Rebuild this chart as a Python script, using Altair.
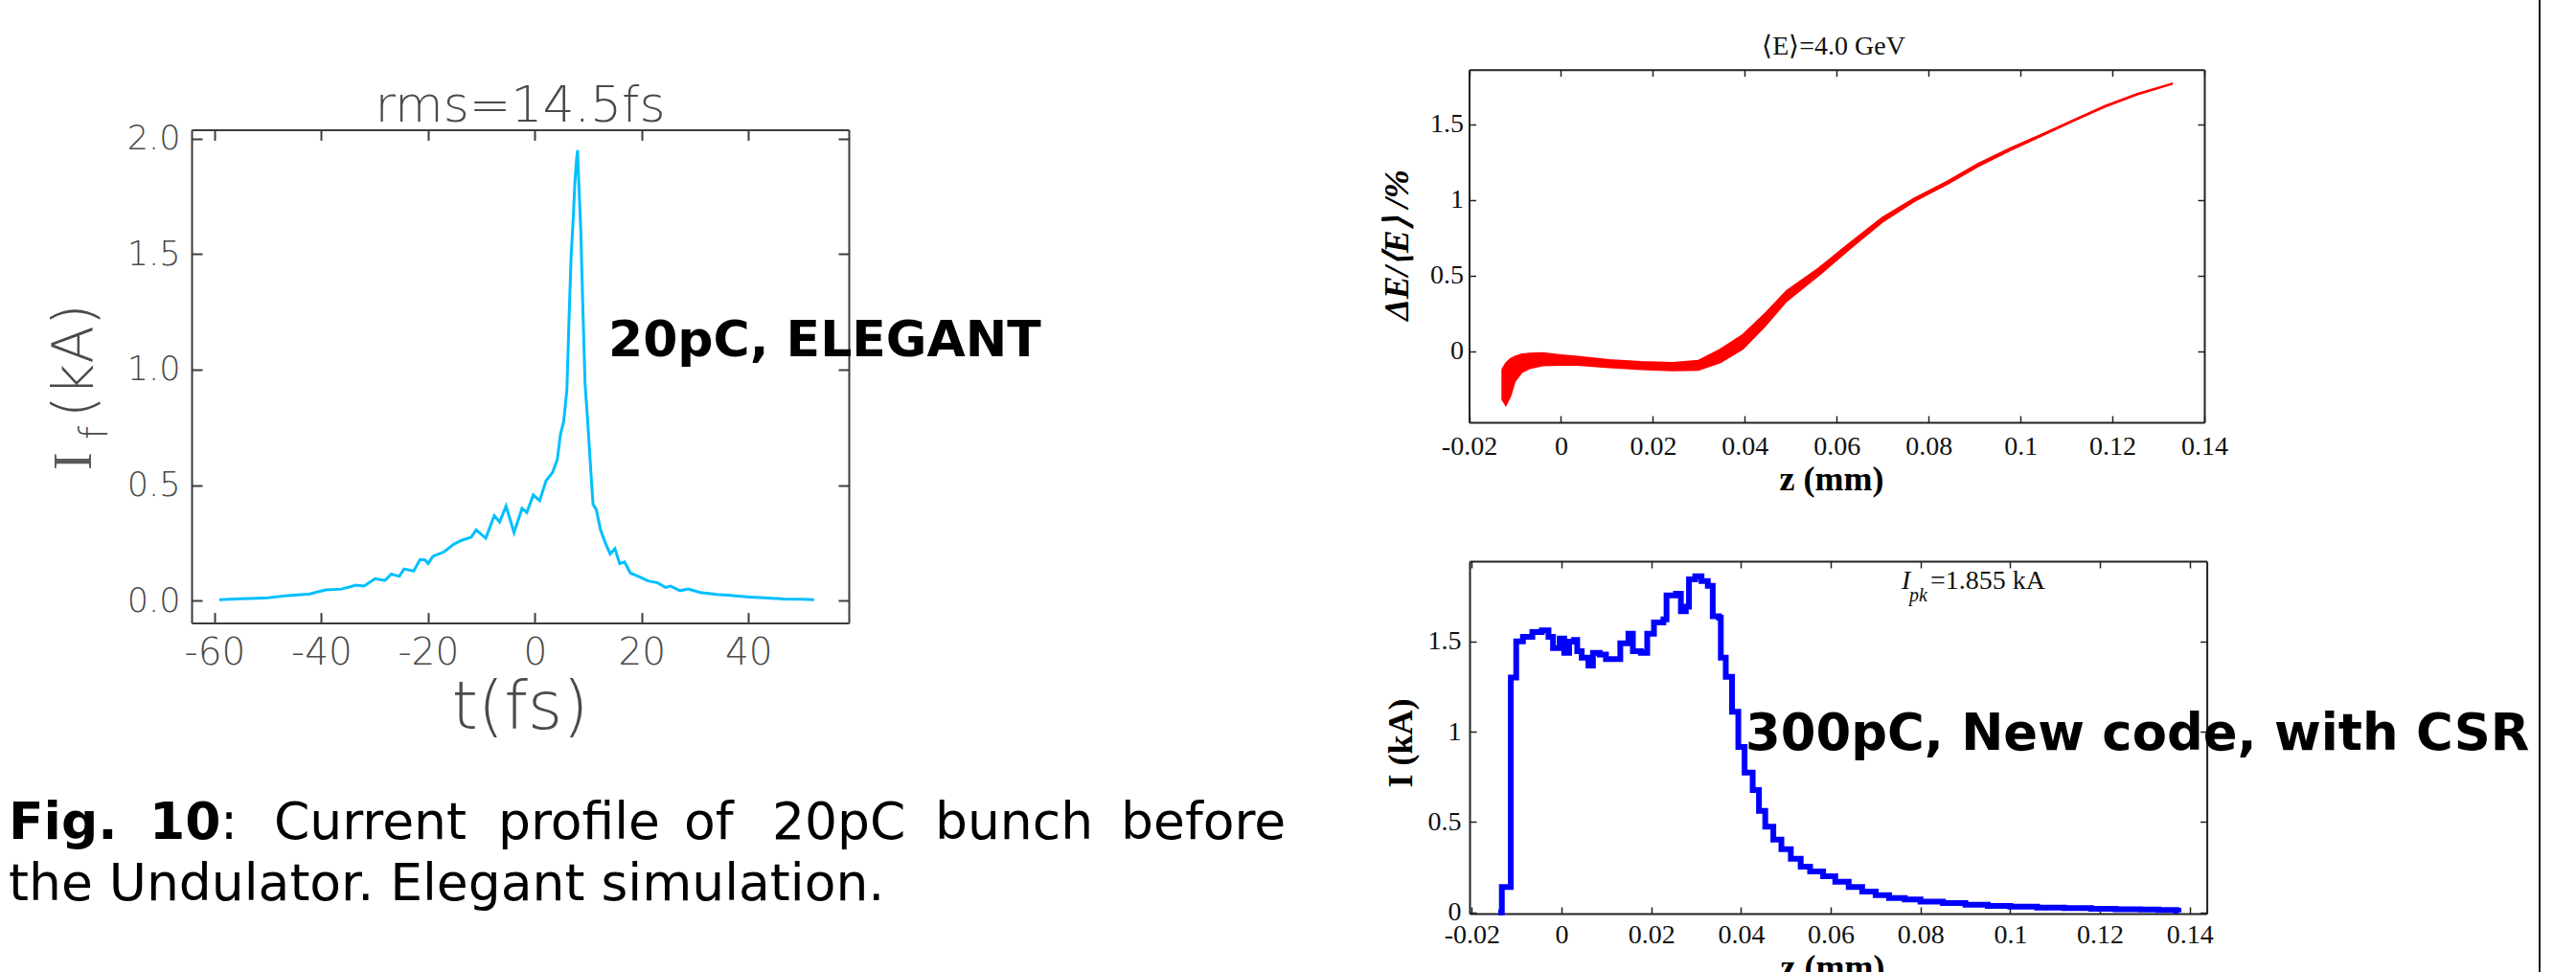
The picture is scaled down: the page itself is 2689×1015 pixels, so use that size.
import altair as alt
import pandas as pd

W, H = 2689, 1015

# ---------------- data ----------------
# Left panel: 20 pC bunch, ELEGANT current profile
t_fs = [-59.1, -55.0, -50.0, -46.3, -42.2, -39.2, -36.2, -33.5, -32.0, -29.9,
        -28.1, -26.9, -25.4, -24.5, -22.7, -21.5, -20.6, -20.0, -19.1, -17.0,
        -15.2, -13.7, -11.9, -11.0, -9.2, -7.6, -6.6, -5.4, -3.9, -2.4,
        -1.5, -0.3, 0.9, 2.1, 3.3, 4.2, 4.8, 5.4, 6.0, 6.4,
        6.8, 7.2, 7.5, 7.8, 8.0, 8.2, 8.6, 9.0, 9.4, 9.9,
        10.5, 10.9, 11.5, 12.3, 13.2, 14.1, 15.0, 15.9, 16.8, 17.9,
        19.4, 21.2, 23.0, 24.5, 25.4, 27.2, 28.7, 31.0, 34.1, 37.0,
        40.4, 43.0, 46.7, 50.0, 52.3]
I_ka = [0.004, 0.008, 0.012, 0.022, 0.029, 0.046, 0.050, 0.067, 0.063, 0.095,
        0.087, 0.115, 0.105, 0.137, 0.128, 0.178, 0.176, 0.160, 0.192, 0.211,
        0.244, 0.261, 0.275, 0.306, 0.270, 0.368, 0.340, 0.409, 0.295, 0.399,
        0.381, 0.457, 0.432, 0.519, 0.554, 0.610, 0.720, 0.775, 0.913, 1.217,
        1.494, 1.659, 1.811, 1.907, 1.949, 1.825, 1.604, 1.259, 0.941, 0.775,
        0.554, 0.416, 0.395, 0.306, 0.250, 0.202, 0.225, 0.160, 0.167, 0.119,
        0.105, 0.085, 0.077, 0.057, 0.063, 0.043, 0.050, 0.035, 0.027, 0.022,
        0.015, 0.012, 0.007, 0.006, 0.004]
t_ticks = [-60, -40, -20, 0, 20, 40]
If_ticks = [0.0, 0.5, 1.0, 1.5, 2.0]

# Right top: energy deviation band along the bunch (<E> = 4.0 GeV)
z_e = [-0.0128, -0.0120, -0.0110, -0.0100, -0.0085, -0.0068, -0.0040, 0.0000,
       0.0036, 0.0105, 0.0174, 0.0243, 0.0299, 0.0347, 0.0396, 0.0444, 0.0491,
       0.0561, 0.0630, 0.0699, 0.0769, 0.0838, 0.0907, 0.0977, 0.1046, 0.1115,
       0.1184, 0.1254, 0.1330]
dE_lo = [-0.32, -0.36, -0.30, -0.20, -0.14, -0.115, -0.095, -0.092,
         -0.093, -0.108, -0.121, -0.129, -0.125, -0.075, 0.015, 0.165, 0.33,
         0.50, 0.68, 0.853, 0.99, 1.10, 1.22, 1.327, 1.424, 1.521,
         1.615, 1.696, 1.767]
dE_hi = [-0.12, -0.08, -0.05, -0.035, -0.02, -0.015, -0.012, -0.025,
         -0.036, -0.057, -0.070, -0.076, -0.062, 0.013, 0.110, 0.250, 0.40,
         0.55, 0.72, 0.885, 1.012, 1.12, 1.24, 1.343, 1.436, 1.531,
         1.625, 1.704, 1.773]
z_ticks = [-0.02, 0, 0.02, 0.04, 0.06, 0.08, 0.1, 0.12, 0.14]
dE_ticks = [0, 0.5, 1, 1.5]

# Right bottom: 300 pC current profile (new code, with CSR)
z_i = [-0.0141, -0.0133, -0.0113, -0.0101, -0.0086, -0.0065, -0.0044, -0.0029,
       -0.0019, -0.0004, 0.0006, 0.0017, 0.0028, 0.0035, 0.0045, 0.0060, 0.0070,
       0.0085, 0.0099, 0.0120, 0.0131, 0.0149, 0.0159, 0.0177, 0.0191, 0.0206,
       0.0227, 0.0234, 0.0255, 0.0266, 0.0277, 0.0284, 0.0298, 0.0312, 0.0326,
       0.0337, 0.0351, 0.0355, 0.0366, 0.0380, 0.0394, 0.0408, 0.0426, 0.0440,
       0.0454, 0.0472, 0.0490, 0.0511, 0.0533, 0.0554, 0.0583, 0.0610, 0.0640,
       0.0670, 0.0700, 0.0730, 0.0765, 0.0800, 0.0850, 0.0900, 0.0950, 0.1000,
       0.1060, 0.1120, 0.1180, 0.1235, 0.1290, 0.1330, 0.1370, 0.1375]
I_i = [0.0, 0.14, 1.30, 1.50, 1.524, 1.551, 1.560, 1.524,
       1.462, 1.515, 1.436, 1.498, 1.507, 1.445, 1.409, 1.365, 1.436,
       1.427, 1.401, 1.401, 1.489, 1.542, 1.445, 1.436, 1.542, 1.604,
       1.621, 1.754, 1.763, 1.666, 1.692, 1.842, 1.860, 1.833, 1.807,
       1.639, 1.630, 1.409, 1.304, 1.110, 0.915, 0.774, 0.677, 0.562,
       0.474, 0.403, 0.350, 0.297, 0.253, 0.227, 0.200, 0.170, 0.140,
       0.115, 0.095, 0.080, 0.072, 0.060, 0.052, 0.042, 0.036, 0.032,
       0.027, 0.024, 0.020, 0.018, 0.016, 0.013, 0.010, 0.0]
I_ticks = [0, 0.5, 1, 1.5]

left_df = pd.DataFrame({"t": t_fs, "I": I_ka})
ps_df = pd.DataFrame({"z": z_e, "lo": dE_lo, "hi": dE_hi})
cur_df = pd.DataFrame({"z": z_i, "I": I_i})

# ---------------- panel geometry (pixels) ----------------
PL = dict(x0=200, x1=886, y0=135.4, y1=650.6, xdom=[-64.3, 58.8], ydom=[-0.097, 2.038])
PT = dict(x0=1533.5, x1=2301, y0=72.7, y1=441, xdom=[-0.02, 0.14], ydom=[-0.471, 1.863])
PB = dict(x0=1534, x1=2303.6, y0=586, y1=954, xdom=[-0.0205, 0.1438], ydom=[-0.0064, 1.943])

THIN = "DejaVu Sans"
SERIF = "Liberation Serif"
S_LEFT = dict(frame="#3c3c3c", fw=2, tick=11, tw=2, font=THIN, fweight=200,
              lcol="#4a4a4a", xls=39, yls=35, xpad=12, ypad=12)
S_RT = dict(frame="#222222", fw=2, tick=7, tw=1.5, font=SERIF, fweight="normal",
            lcol="#111111", xls=28, yls=28, xpad=11, ypad=6)
S_RB = dict(S_RT, xpad=8, ypad=9)


def panel(df, xf, yf, draw, P, S, xticks, yticks, xexpr, yexpr, y2f=None):
    xs = alt.Scale(domain=P["xdom"], range=[P["x0"], P["x1"]], nice=False, zero=False)
    ys = alt.Scale(domain=P["ydom"], range=[P["y1"], P["y0"]], nice=False, zero=False)
    line = dict(grid=False, title=None, domainColor=S["frame"], domainWidth=S["fw"],
                tickColor=S["frame"], tickWidth=S["tw"], tickSize=S["tick"])
    lab = dict(labelFont=S["font"], labelFontWeight=S["fweight"], labelColor=S["lcol"],
               labelFlush=False, labelOverlap=False)
    # labelled axes: bottom & left frame
    ax_bx = alt.Axis(orient="bottom", offset=P["y1"] - H, values=xticks, ticks=False,
                     domain=True, labels=True, labelExpr=xexpr, labelFontSize=S["xls"],
                     labelPadding=S["xpad"], **lab, **line)
    ax_ly = alt.Axis(orient="left", offset=-P["x0"], values=yticks, ticks=False,
                     domain=True, labels=True, labelExpr=yexpr, labelFontSize=S["yls"],
                     labelPadding=S["ypad"], **lab, **line)
    # inward ticks on bottom and left frame
    ax_tb = alt.Axis(orient="top", offset=-P["y1"], values=xticks, ticks=True,
                     domain=False, labels=False, **line)
    ax_tl = alt.Axis(orient="right", offset=P["x0"] - W, values=yticks, ticks=True,
                     domain=False, labels=False, **line)
    # top and right frame with inward ticks
    ax_top = alt.Axis(orient="bottom", offset=P["y0"] - H, values=xticks, ticks=True,
                      domain=True, labels=False, **line)
    ax_rgt = alt.Axis(orient="left", offset=-P["x1"], values=yticks, ticks=True,
                      domain=True, labels=False, **line)

    main = draw(alt.Chart(df)).encode(
        x=alt.X(f"{xf}:Q", scale=xs, axis=ax_bx),
        y=alt.Y(f"{yf}:Q", scale=ys, axis=ax_ly),
    )
    if y2f:
        main = main.encode(y2=alt.Y2(f"{y2f}:Q"))
    ghost_a = alt.Chart(df).mark_point(opacity=0).encode(
        x=alt.X(f"{xf}:Q", scale=xs, axis=ax_tb),
        y=alt.Y(f"{yf}:Q", scale=ys, axis=ax_tl),
    )
    ghost_b = alt.Chart(df).mark_point(opacity=0).encode(
        x=alt.X(f"{xf}:Q", scale=xs, axis=ax_top),
        y=alt.Y(f"{yf}:Q", scale=ys, axis=ax_rgt),
    )
    return [ghost_a, ghost_b, main]


def txt(s, x, y, size, font, weight="normal", style="normal", color="#000000",
        align="left", baseline="alphabetic", angle=0):
    kw = dict(align=align, baseline=baseline, font=font, fontSize=size,
              fontWeight=weight, fontStyle=style, color=color)
    if angle:
        kw["angle"] = angle
    return alt.Chart(pd.DataFrame({"label": [s]})).mark_text(**kw).encode(
        x=alt.value(x), y=alt.value(y), text="label:N")


layers = []
layers += panel(left_df, "t", "I", lambda c: c.mark_line(color="#00bfff", strokeWidth=3),
                PL, S_LEFT, t_ticks, If_ticks, "'' + datum.value", "format(datum.value, '.1f')")
layers += panel(ps_df, "z", "lo", lambda c: c.mark_area(color="#ff0000", stroke="#ff0000",
                                                          strokeWidth=1.5, opacity=1),
                PT, S_RT, z_ticks, dE_ticks, "'' + datum.value", "'' + datum.value", y2f="hi")
layers += panel(cur_df, "z", "I", lambda c: c.mark_line(color="#0000ff", strokeWidth=6,
                                                          interpolate="step-after"),
                PB, S_RB, z_ticks, I_ticks, "'' + datum.value", "'' + datum.value")

GREY = "#4a4a4a"
# left panel texts
layers += [
    txt("rms=14.5fs", 543, 127, 52, THIN, weight=200, color=GREY, align="center"),
    txt("t(fs)", 543, 761, 70, THIN, weight=200, color=GREY, align="center"),
    txt("I", 95, 491, 56, SERIF, color="#5a5a5a", angle=270),
    txt("f", 112, 459, 40, THIN, weight=200, color=GREY, angle=270),
    txt("(kA)", 97, 436, 58, THIN, weight=200, color=GREY, angle=270),
    txt("20pC, ELEGANT", 635, 372, 52, "DejaVu Sans", weight="bold"),
]
# right panel texts
layers += [
    txt("⟨E⟩=4.0 GeV", 1914, 57, 28, SERIF, color="#111111", align="center"),
    txt("ΔE/⟨E⟩ /%", 1459, 256, 36, SERIF, weight="bold", style="italic",
        align="center", baseline="middle", angle=270),
    txt("z (mm)", 1912, 512, 36, SERIF, weight="bold", align="center"),
    txt("I (kA)", 1463, 776, 36, SERIF, weight="bold", align="center",
        baseline="middle", angle=270),
    txt("z (mm)", 1913, 1022, 36, SERIF, weight="bold", align="center"),
    txt("I", 1985, 615, 28, SERIF, style="italic", color="#111111"),
    txt("pk", 1993, 628, 20, SERIF, style="italic", color="#111111"),
    txt("=1.855 kA", 2015, 615, 28, SERIF, color="#111111"),
    txt("300pC, New code, with CSR", 1822, 783, 52.8, "DejaVu Sans", weight="bold"),
]
# caption
cap1_words = ["Fig.", "10", ":", "Current", "profile", "of", "20pC", "bunch", "before"]
cap1_x = [9, 156, 230, 286, 520, 714, 806, 976, 1170]
cap1_bold = [True, True, False, False, False, False, False, False, False]
for w_, x_, b_ in zip(cap1_words, cap1_x, cap1_bold):
    layers.append(txt(w_, x_, 876, 53.5, "DejaVu Sans", weight="bold" if b_ else "normal"))
layers.append(txt("the Undulator. Elegant simulation.", 9, 940, 53.5, "DejaVu Sans"))

# page border line on the right
layers.append(alt.Chart(pd.DataFrame({"k": [0]})).mark_rule(color="#111111", strokeWidth=2).encode(
    x=alt.value(2651), y=alt.value(0), y2=alt.value(H)))

chart = alt.layer(*layers).resolve_scale(
    x="independent", y="independent"
).properties(
    width=W, height=H, padding=0, background="white",
    autosize=alt.AutoSizeParams(type="none"),
).configure_view(stroke=None)

chart.save("out.html", embed_options={"renderer": "svg", "actions": False})
